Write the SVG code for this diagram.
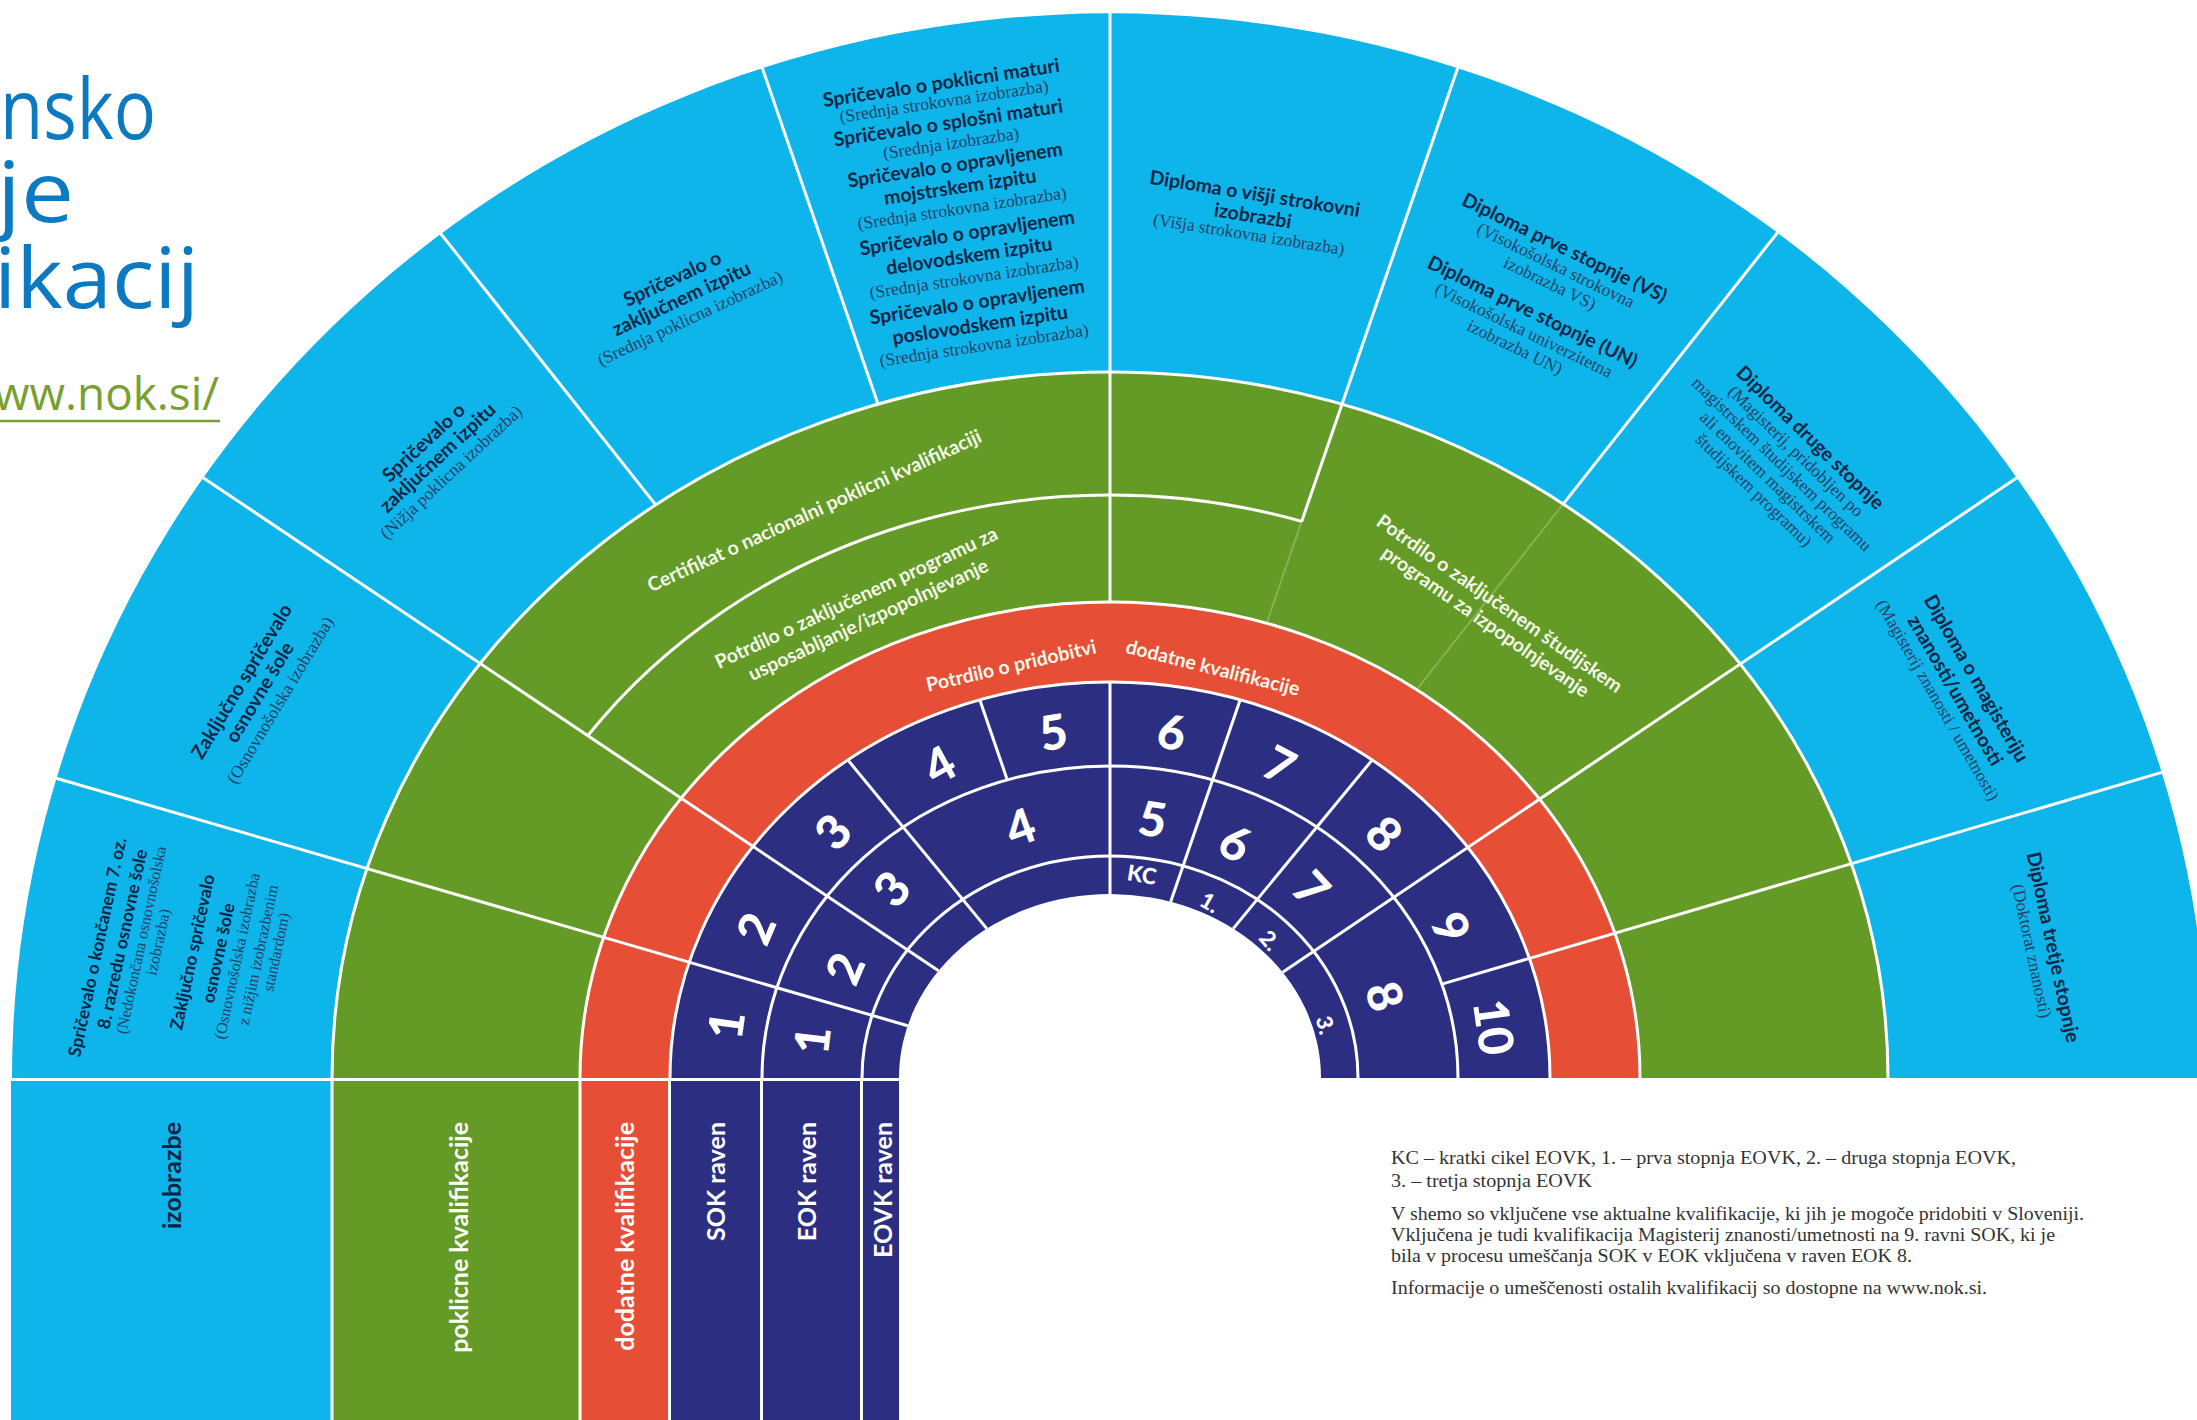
<svg xmlns="http://www.w3.org/2000/svg" width="2197" height="1420" viewBox="0 0 2197 1420">
<style>
.b{font-family:Lato,'Open Sans',sans-serif;font-weight:700;font-size:19.5px;fill:#112545;text-anchor:middle;dominant-baseline:central}
.b1{font-size:17.5px}
.s{font-family:'Liberation Serif',serif;font-size:17.5px;fill:#2a4066;text-anchor:middle;dominant-baseline:central}
.s1{font-size:16px}
.w{font-family:Lato,'Open Sans',sans-serif;font-weight:700;font-size:19.5px;fill:#f4f8ea;text-anchor:middle;dominant-baseline:central}
.n{font-family:Lato,'Open Sans',sans-serif;font-weight:900;font-size:48px;fill:#fff;text-anchor:middle;dominant-baseline:central}
.n2{font-family:Lato,'Open Sans',sans-serif;font-weight:900;font-size:22px;fill:#fff;text-anchor:middle;dominant-baseline:central}
.col{font-family:Lato,'Open Sans',sans-serif;font-weight:700;font-size:25px;fill:#fff;text-anchor:end;dominant-baseline:central}
.ln{stroke:#fff;stroke-width:3;fill:none}
.fl{stroke:#fff;stroke-opacity:0.22;stroke-width:2;fill:none}
.leg{font-family:'Liberation Serif',serif;font-size:18.5px;fill:#333}
.tt{font-family:'Open Sans',sans-serif;font-weight:400;font-size:84px;fill:#0c7ac0}
</style>
<rect width="2197" height="1420" fill="#fff"/>

<g id="title">
<text class="tt" x="0" y="139" textLength="156" lengthAdjust="spacingAndGlyphs">nsko</text>
<text class="tt" x="-3" y="222" textLength="77" lengthAdjust="spacingAndGlyphs">je</text>
<text class="tt" x="-6" y="308" textLength="205" lengthAdjust="spacingAndGlyphs">ikacij</text>
<text x="-6" y="410" font-family="'Open Sans',sans-serif" font-weight="400" font-size="46" fill="#78a02f" textLength="225" lengthAdjust="spacingAndGlyphs">ww.nok.si/</text>
<line x1="0" y1="421" x2="220" y2="421" stroke="#78a02f" stroke-width="2.6"/>
</g>

<g id="rings">
<path d="M12 1078 A1098 1065 0 0 1 2208 1078 Z" fill="#0db5ea"/>
<path d="M332 1078 A778 706 0 0 1 1888 1078 Z" fill="#649b26"/>
<path d="M580 1078 A530 476 0 0 1 1640 1078 Z" fill="#e64e35"/>
<path d="M670 1078 A440 396 0 0 1 1550 1078 Z" fill="#2c2e82"/>
<path d="M899 1078 A211 184 0 0 1 1321 1078 Z" fill="#fff"/>
</g>

<g id="columns">
<rect x="11" y="1078" width="321" height="342" fill="#0db5ea"/>
<rect x="332" y="1078" width="248" height="342" fill="#649b26"/>
<rect x="580" y="1078" width="90" height="342" fill="#e64e35"/>
<rect x="670" y="1078" width="229" height="342" fill="#2c2e82"/>
</g>

<g id="connectors">
<path class="ln" d="M332 1078 A778 706 0 0 1 1888 1078"/>
<path class="ln" d="M580 1078 A530 476 0 0 1 1640 1078"/>
<path class="ln" d="M670 1078 A440 396 0 0 1 1550 1078"/>
<path class="ln" d="M762 1078 A348 312 0 0 1 1458 1078"/>
<path class="ln" d="M862 1078 A248 222 0 0 1 1358 1078"/>
<path class="ln" d="M587.5 736 A645 583 0 0 1 1301.7 521.4"/>
<line class="ln" x1="55.4" y1="778" x2="907.7" y2="1025.7"/>
<line class="ln" x1="203.1" y1="477.7" x2="938.5" y2="970.8"/>
<line class="ln" x1="440.8" y1="233.7" x2="655.7" y2="504.9"/>
<line class="ln" x1="847.8" y1="759.9" x2="986.8" y2="928.6"/>
<line class="ln" x1="762.2" y1="67.8" x2="878" y2="404.1"/>
<line class="ln" x1="979.8" y1="699.8" x2="1007.3" y2="779.9"/>
<line class="ln" x1="1110" y1="13" x2="1110" y2="602"/>
<line class="ln" x1="1110" y1="682" x2="1110" y2="894"/>
<line class="ln" x1="1457.8" y1="67.8" x2="1301.7" y2="521.4"/>
<line class="fl" x1="1301.7" y1="521.4" x2="1266.6" y2="623.3"/>
<line class="ln" x1="1240.2" y1="699.8" x2="1170.7" y2="901.8"/>
<line class="ln" x1="1777.6" y1="232.5" x2="1563.1" y2="504.1"/>
<line class="fl" x1="1563.1" y1="504.1" x2="1416.6" y2="689.7"/>
<line class="ln" x1="1372.2" y1="759.9" x2="1233.2" y2="928.6"/>
<line class="ln" x1="2016.9" y1="477.7" x2="1282.6" y2="972.2"/>
<line class="ln" x1="2161.8" y1="772.4" x2="1441.9" y2="984.1"/>
<line class="ln" x1="11" y1="1079.5" x2="899" y2="1079.5"/>
<line class="ln" x1="332" y1="1078" x2="332" y2="1420"/>
<line class="ln" x1="580" y1="1078" x2="580" y2="1420"/>
<line class="ln" x1="669.5" y1="1078" x2="669.5" y2="1420"/>
<line class="ln" x1="761.5" y1="1078" x2="761.5" y2="1420"/>
<line class="ln" x1="861.5" y1="1078" x2="861.5" y2="1420"/>
</g>

<g id="seg1">
<text class="b b1" transform="translate(97 947) rotate(-78)">Spričevalo o končanem 7. oz.</text>
<text class="b b1" transform="translate(122 939) rotate(-78)">8. razredu osnovne šole</text>
<text class="s s1" transform="translate(141 940) rotate(-78)">(Nedokončana osnovnošolska</text>
<text class="s s1" transform="translate(158 942) rotate(-78)">izobrazba)</text>
<text class="b b1" transform="translate(192 952) rotate(-78)">Zaključno spričevalo</text>
<text class="b b1" transform="translate(218 953) rotate(-78)">osnovne šole</text>
<text class="s s1" transform="translate(237 956) rotate(-78)">(Osnovnošolska izobrazba</text>
<text class="s s1" transform="translate(258 955) rotate(-78)">z nižjim izobrazbenim</text>
<text class="s s1" transform="translate(276 952) rotate(-78)">standardom)</text>
</g>
<g id="seg2">
<text class="b" transform="translate(241 681) rotate(-59)">Zaključno spričevalo</text>
<text class="b" transform="translate(259 692) rotate(-59)">osnovne šole</text>
<text class="s" transform="translate(280 700) rotate(-59)">(Osnovnošolska izobrazba)</text>
</g>
<g id="seg3">
<text class="b" transform="translate(423 442) rotate(-43)">Spričevalo o</text>
<text class="b" transform="translate(437 457) rotate(-43)">zaključnem izpitu</text>
<text class="s" transform="translate(451 472) rotate(-43)">(Nižja poklicna izobrazba)</text>
</g>
<g id="seg4">
<text class="b" transform="translate(672 278) rotate(-25)">Spričevalo o</text>
<text class="b" transform="translate(681 298) rotate(-25)">zaključnem izpitu</text>
<text class="s" transform="translate(690 318) rotate(-25)">(Srednja poklicna izobrazba)</text>
</g>
<g id="seg5">
<text class="b" transform="translate(941 82) rotate(-8.5)">Spričevalo o poklicni maturi</text>
<text class="s" transform="translate(944 101) rotate(-8.5)">(Srednja strokovna izobrazba)</text>
<text class="b" transform="translate(948 122) rotate(-8.5)">Spričevalo o splošni maturi</text>
<text class="s" transform="translate(951 143) rotate(-8.5)">(Srednja izobrazba)</text>
<text class="b" transform="translate(955 164) rotate(-8.5)">Spričevalo o opravljenem</text>
<text class="b" transform="translate(960 186) rotate(-8.5)">mojstrskem izpitu</text>
<text class="s" transform="translate(962 208) rotate(-8.5)">(Srednja strokovna izobrazba)</text>
<text class="b" transform="translate(967 232) rotate(-8.5)">Spričevalo o opravljenem</text>
<text class="b" transform="translate(969 255) rotate(-8.5)">delovodskem izpitu</text>
<text class="s" transform="translate(974 277) rotate(-8.5)">(Srednja strokovna izobrazba)</text>
<text class="b" transform="translate(977 301) rotate(-8.5)">Spričevalo o opravljenem</text>
<text class="b" transform="translate(980 324) rotate(-8.5)">poslovodskem izpitu</text>
<text class="s" transform="translate(984 345) rotate(-8.5)">(Srednja strokovna izobrazba)</text>
</g>
<g id="seg6">
<text class="b" transform="translate(1255 193) rotate(9)">Diploma o višji strokovni</text>
<text class="b" transform="translate(1253 215) rotate(9)">izobrazbi</text>
<text class="s" transform="translate(1249 234) rotate(9)">(Višja strokovna izobrazba)</text>
</g>
<g id="seg7">
<text class="b" transform="translate(1565 247) rotate(26)">Diploma prve stopnje (VS)</text>
<text class="s" transform="translate(1556 265) rotate(26)">(Visokošolska strokovna</text>
<text class="s" transform="translate(1550 283) rotate(26)">izobrazba VS)</text>
<text class="b" transform="translate(1533 311) rotate(26)">Diploma prve stopnje (UN)</text>
<text class="s" transform="translate(1524 330) rotate(26)">(Visokošolska univerzitetna</text>
<text class="s" transform="translate(1515 347) rotate(26)">izobrazba UN)</text>
</g>
<g id="seg8">
<text class="b" transform="translate(1811 437) rotate(44)">Diploma druge stopnje</text>
<text class="s" transform="translate(1796 451) rotate(44)">(Magisterij, pridobljen po</text>
<text class="s" transform="translate(1782 464) rotate(44)">magistrskem študijskem programu</text>
<text class="s" transform="translate(1768 477) rotate(44)">ali enovitem magistrskem</text>
<text class="s" transform="translate(1754 490) rotate(44)">študijskem programu)</text>
</g>
<g id="seg9">
<text class="b" transform="translate(1977 678) rotate(60)">Diploma o magisteriju</text>
<text class="b" transform="translate(1956 690) rotate(60)">znanosti/umetnosti</text>
<text class="s" transform="translate(1938 700) rotate(60)">(Magisterij znanosti / umetnosti)</text>
</g>
<g id="seg10">
<text class="b" transform="translate(2054 947) rotate(78)">Diploma tretje stopnje</text>
<text class="s" transform="translate(2032 951) rotate(78)">(Doktorat znanosti)</text>
</g>

<g id="green-labels">
<text class="w" transform="translate(814 510) rotate(-24.5)">Certifikat o nacionalni poklicni kvalifikaciji</text>
<text class="w" transform="translate(856 597) rotate(-25)">Potrdilo o zaključenem programu za</text>
<text class="w" transform="translate(868 619) rotate(-25)">usposabljanje/izpopolnjevanje</text>
<text class="w" transform="translate(1500 603) rotate(35)">Potrdilo o zaključenem študijskem</text>
<text class="w" transform="translate(1486 621) rotate(35)">programu za izpopolnjevanje</text>
</g>
<g id="red-labels">
<text class="w" transform="translate(1011 665) rotate(-13)">Potrdilo o pridobitvi</text>
<text class="w" transform="translate(1213 667) rotate(14)">dodatne kvalifikacije</text>
</g>

<g id="sok">
<text class="n" transform="translate(725 1025) rotate(-82)">1</text>
<text class="n" transform="translate(755 928) rotate(-67)">2</text>
<text class="n" transform="translate(832 831) rotate(-48)">3</text>
<text class="n" transform="translate(939 764) rotate(-29)">4</text>
<text class="n" transform="translate(1053 731) rotate(-9)">5</text>
<text class="n" transform="translate(1172 731) rotate(10)">6</text>
<text class="n" transform="translate(1280 764) rotate(28)">7</text>
<text class="n" transform="translate(1385 833) rotate(48)">8</text>
<text class="n" transform="translate(1452 927) rotate(66)">9</text>
<text class="n" transform="translate(1495 1027) rotate(82)">10</text>
</g>
<g id="eok">
<text class="n" transform="translate(811 1040) rotate(-83)">1</text>
<text class="n" transform="translate(844 968) rotate(-67)">2</text>
<text class="n" transform="translate(891 888) rotate(-49)">3</text>
<text class="n" transform="translate(1020 826) rotate(-20)">4</text>
<text class="n" transform="translate(1153 818) rotate(9)">5</text>
<text class="n" transform="translate(1236 842) rotate(28)">6</text>
<text class="n" transform="translate(1312 888) rotate(47)">7</text>
<text class="n" transform="translate(1386 996) rotate(73)">8</text>
</g>
<g id="eovk">
<text class="n2" transform="translate(1142 874) rotate(9)">KC</text>
<text class="n2" transform="translate(1210 902) rotate(30)">1.</text>
<text class="n2" transform="translate(1270 940) rotate(49)">2.</text>
<text class="n2" transform="translate(1326 1025) rotate(76)">3.</text>
</g>

<g id="column-labels">
<text class="col" transform="translate(171 1122) rotate(-90)" style="fill:#0d2447">izobrazbe</text>
<text class="col" transform="translate(458 1122) rotate(-90)">poklicne kvalifikacije</text>
<text class="col" transform="translate(624 1122) rotate(-90)">dodatne kvalifikacije</text>
<text class="col" transform="translate(715 1122) rotate(-90)">SOK raven</text>
<text class="col" transform="translate(806 1122) rotate(-90)">EOK raven</text>
<text class="col" transform="translate(882 1122) rotate(-90)">EOVK raven</text>
</g>

<g id="legend">
<text class="leg" x="1391" y="1164" textLength="625" lengthAdjust="spacingAndGlyphs">KC – kratki cikel EOVK, 1. – prva stopnja EOVK, 2. – druga stopnja EOVK,</text>
<text class="leg" x="1391" y="1187" textLength="201" lengthAdjust="spacingAndGlyphs">3. – tretja stopnja EOVK</text>
<text class="leg" x="1391" y="1220" textLength="693" lengthAdjust="spacingAndGlyphs">V shemo so vključene vse aktualne kvalifikacije, ki jih je mogoče pridobiti v Sloveniji.</text>
<text class="leg" x="1391" y="1241" textLength="664" lengthAdjust="spacingAndGlyphs">Vključena je tudi kvalifikacija Magisterij znanosti/umetnosti na 9. ravni SOK, ki je</text>
<text class="leg" x="1391" y="1262" textLength="521" lengthAdjust="spacingAndGlyphs">bila v procesu umeščanja SOK v EOK vključena v raven EOK 8.</text>
<text class="leg" x="1391" y="1294" textLength="596" lengthAdjust="spacingAndGlyphs">Informacije o umeščenosti ostalih kvalifikacij so dostopne na www.nok.si.</text>
</g>
</svg>
